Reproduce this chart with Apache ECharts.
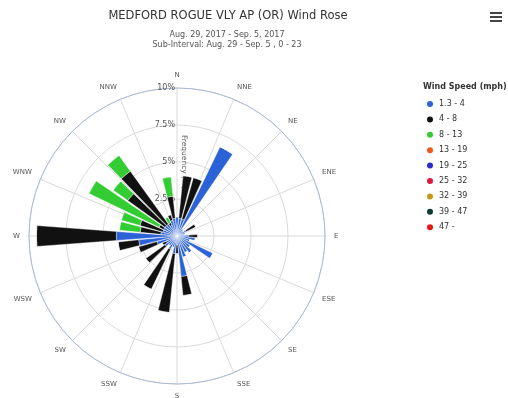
<!DOCTYPE html>
<html>
<head>
<meta charset="utf-8">
<script src="https://cdn.jsdelivr.net/npm/echarts@6/dist/echarts.min.js"></script>
<style>
  html, body { margin: 0; padding: 0; background: #fff; }
  #chart { width: 508px; height: 398px; }
</style>
</head>
<body>
<div id="chart"></div>
<script>
// compass labels for the 16 spokes
var directions = ['N', 'NNE', 'NE', 'ENE', 'E', 'ESE', 'SE', 'SSE',
                  'S', 'SSW', 'SW', 'WSW', 'W', 'WNW', 'NW', 'NNW'];

// 10 degree direction bins, 0 = N, clockwise
var sectors = ['0', '10', '20', '30', '40', '50', '60', '70', '80',
               '90', '100', '110', '120', '130', '140', '150', '160', '170',
               '180', '190', '200', '210', '220', '230', '240', '250', '260',
               '270', '280', '290', '300', '310', '320', '330', '340', '350'];

var speedBins = ['1.3 - 4', '4 - 8', '8 - 13', '13 - 19', '19 - 25',
                 '25 - 32', '32 - 39', '39 - 47', '47 -'];
var speedColors = ['#2b62d6', '#111111', '#33cc33', '#ee5a1e', '#2a2ad0',
                   '#e0163c', '#c09a18', '#0d3b30', '#e81818'];

// frequency (%) per sector, one array per speed bin
var speed1to4 = [1.3, 1.2, 1.2, 6.7, 0.6, 0.5, 0.7, 0.6, 0.5,
                 0.8, 1.25, 0.9, 2.7, 1.1, 1.4, 1.25, 1.5, 2.75,
                 0.6, 1.2, 0.8, 1.0, 0.8, 1.0, 0.8, 1.4, 2.6,
                 4.1, 1.1, 1.0, 1.0, 1.0, 1.0, 0.8, 1.1, 1.2];
var speed4to8 = [0, 2.9, 2.9, 0, 0, 0, 0.7, 0, 0,
                 0.6, 0, 0, 0, 0, 0, 0, 0, 1.3,
                 0.6, 4.0, 0, 3.0, 0, 1.6, 0.3, 1.3, 1.4,
                 5.4, 1.4, 1.6, 0.35, 3.1, 4.4, 0.2, 0.4, 1.5];
var speed8to13 = [0, 0, 0, 0, 0, 0, 0, 0, 0,
                  0, 0, 0, 0, 0, 0, 0, 0, 0,
                  0, 0, 0, 0, 0, 0, 0, 0, 0,
                  0, 1.4, 1.3, 5.25, 1.2, 1.3, 0.4, 0, 1.3];
var seriesValues = [speed1to4, speed4to8, speed8to13, [], [], [], [], [], []];

var font = 'DejaVu Sans';
var center = [177, 236];
var radius = 148;

var chart = echarts.init(document.getElementById('chart'));

var series = speedBins.map(function (name, i) {
  return {
    name: name,
    type: 'bar',
    coordinateSystem: 'polar',
    polarIndex: 1,
    stack: 'rose',
    barCategoryGap: '15%',
    itemStyle: { color: speedColors[i], borderColor: '#fff', borderWidth: 0.4 },
    data: seriesValues[i]
  };
});

chart.setOption({
  animation: false,
  color: speedColors,
  title: [{
    text: 'MEDFORD ROGUE VLY AP (OR) Wind Rose',
    left: 228, top: 10, padding: 0, textAlign: 'center',
    textStyle: { fontFamily: font, fontSize: 11.5, fontWeight: 'normal', color: '#333' }
  }, {
    text: 'Aug. 29, 2017 - Sep. 5, 2017\nSub-Interval: Aug. 29 - Sep. 5 , 0 - 23',
    left: 227, top: 30, padding: 0, textAlign: 'center',
    textStyle: { fontFamily: font, fontSize: 8, lineHeight: 10, fontWeight: 'normal', color: '#555' }
  }, {
    text: 'Wind Speed (mph)',
    left: 423, top: 83, padding: 0,
    textStyle: { fontFamily: font, fontSize: 8, fontWeight: 'bold', color: '#333' }
  }],
  legend: {
    orient: 'vertical',
    left: 425, top: 99,
    padding: 0,
    icon: 'circle',
    itemWidth: 8, itemHeight: 8, itemGap: 5.4,
    textStyle: { fontFamily: font, fontSize: 8, lineHeight: 8, color: '#333' },
    data: speedBins
  },
  polar: [
    { center: center, radius: radius },
    { center: center, radius: radius }
  ],
  angleAxis: [{
    polarIndex: 0,
    type: 'value', min: 0, max: 360, interval: 22.5,
    startAngle: 90, clockwise: true,
    axisLine: { lineStyle: { color: '#aab9d9', width: 1 } },
    axisTick: { show: false },
    axisLabel: {
      margin: 9, fontFamily: font, fontSize: 7, color: '#555',
      formatter: function (v) { return directions[Math.round(v / 22.5) % 16]; }
    },
    splitLine: { lineStyle: { color: '#d9d9d9', width: 1 } }
  }, {
    polarIndex: 1,
    type: 'category', data: sectors,
    startAngle: 95, clockwise: true,
    axisLine: { show: false }, axisTick: { show: false },
    axisLabel: { show: false }, splitLine: { show: false }
  }],
  radiusAxis: [{
    polarIndex: 0,
    type: 'value', min: 0, max: 10, interval: 2.5,
    axisLine: { show: false }, axisTick: { show: false },
    axisLabel: { fontFamily: font, fontSize: 8, color: '#555', margin: 2,
      padding: [6, 0, 0, 0],
      formatter: function (v) { return v + '%'; } },
    splitLine: { lineStyle: { color: '#d9d9d9', width: 1 } },
    name: 'Frequency (%)',
    nameLocation: 'middle', nameRotate: -90, nameGap: 3,
    nameTextStyle: { fontFamily: font, fontSize: 7.5, color: '#555' }
  }, {
    polarIndex: 1,
    type: 'value', min: 0, max: 10,
    axisLine: { show: false }, axisTick: { show: false },
    axisLabel: { show: false }, splitLine: { show: false }
  }],
  graphic: [{
    type: 'group', left: 490, top: 12,
    children: [
      { type: 'rect', shape: { x: 0, y: 0, width: 12, height: 2 }, style: { fill: '#444' } },
      { type: 'rect', shape: { x: 0, y: 4, width: 12, height: 2 }, style: { fill: '#444' } },
      { type: 'rect', shape: { x: 0, y: 8, width: 12, height: 2 }, style: { fill: '#444' } }
    ]
  }],
  series: series
});
</script>
</body>
</html>
